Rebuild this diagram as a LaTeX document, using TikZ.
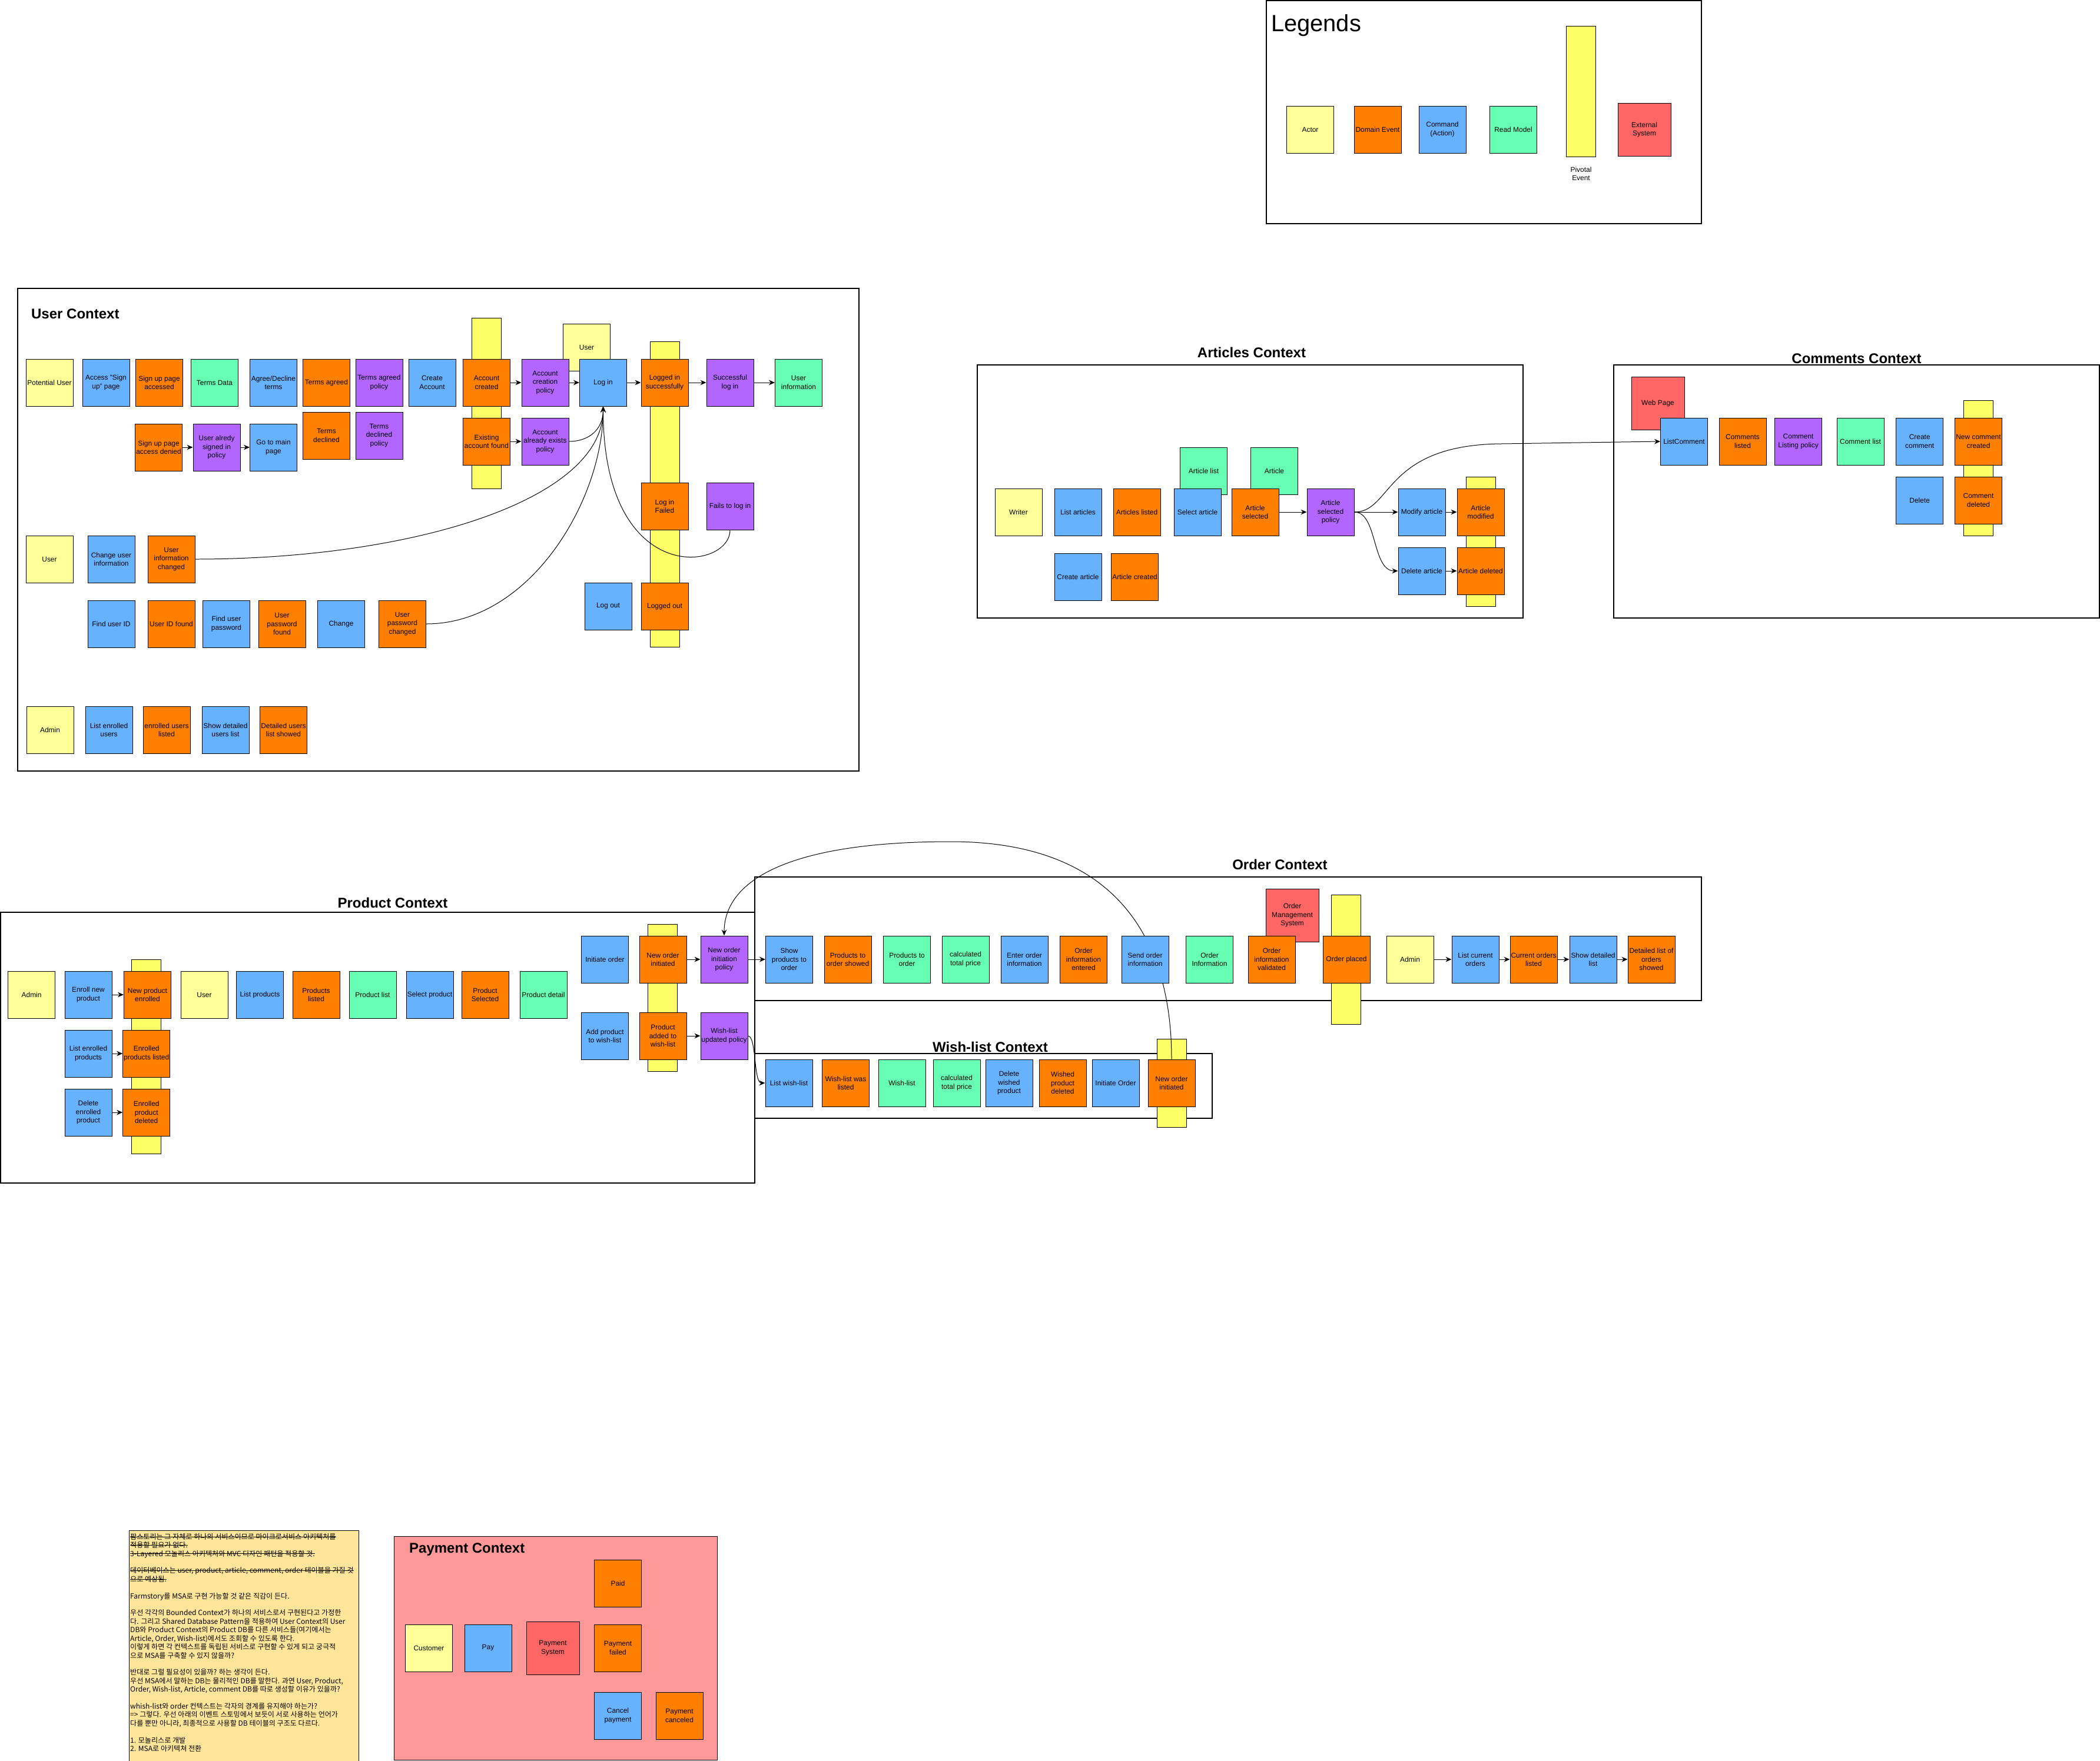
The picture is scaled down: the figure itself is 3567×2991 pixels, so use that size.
\documentclass[tikz,border=0pt]{standalone}
\usepackage{fontspec}
\setmainfont{Liberation Sans}
\newfontfamily\kofont{Noto Sans CJK KR}
\usetikzlibrary{arrows.meta}
\definecolor{actorc}{HTML}{FFFF99}
\definecolor{eventc}{HTML}{FF8000}
\definecolor{cmdc}{HTML}{66B2FF}
\definecolor{readc}{HTML}{66FFB3}
\definecolor{policyc}{HTML}{B266FF}
\definecolor{extc}{HTML}{FF6666}
\definecolor{pivotc}{HTML}{FFFF66}
\definecolor{memoc}{HTML}{FFE599}
\definecolor{payc}{HTML}{FF9999}
\newcommand\boxfont{\fontsize{10.2pt}{12.3pt}\selectfont}
\newcommand\titlefont{\bfseries\fontsize{20.5pt}{24pt}\selectfont}
\newcommand\memofont{\kofont\fontsize{10.3pt}{12.3pt}\selectfont}
\newcommand\strk[1]{\leavevmode\setbox0\hbox{#1}\rlap{\rule[0.32em]{\wd0}{0.07em}}\box0}
\pgfdeclarelayer{back}
\pgfdeclarelayer{mid}
\pgfsetlayers{back,mid,main}

\begin{document}
\begin{tikzpicture}[x=0.03cm, y=-0.03cm,
  stick/.style={draw, line width=0.85pt, minimum width=2.4cm, minimum height=2.4cm, inner sep=1pt, align=center, font=\boxfont},
  actor/.style={stick, fill=actorc},
  event/.style={stick, fill=eventc},
  cmd/.style={stick, fill=cmdc},
  readm/.style={stick, fill=readc},
  policy/.style={stick, fill=policyc},
  extsys/.style={stick, fill=extc, minimum width=2.7cm, minimum height=2.7cm},
  pivot/.style={draw, line width=0.85pt, fill=pivotc, minimum width=1.5cm, inner sep=0pt},
  frame/.style={draw, line width=1.2pt},
  ctitle/.style={font=\titlefont, anchor=base},
  flow/.style={-{Stealth[length=0.3cm,width=0.26cm]}, line width=0.85pt}]
\useasboundingbox (0,0) rectangle (3567,2991);

\begin{pgfonlayer}{back}
\fill[white] (0,0) rectangle (3567,2991);
\draw[frame] (2151,1) rectangle (2890,380);
\draw[frame] (30,490) rectangle (1459,1310);
\draw[frame] (1660,620) rectangle (2587,1050);
\draw[frame] (2741,620) rectangle (3566,1050);
\draw[frame] (1,1550) rectangle (1282,2010);
\draw[frame] (1282,1490) rectangle (2890,1700);
\draw[frame] (1282,1790) rectangle (2059,1900);
\draw[line width=0.85pt, fill=payc] (669,2610) rectangle (1218,2990);
\draw[line width=0.85pt, fill=memoc] (219,2600) rectangle (609,2995);

\node[pivot, minimum height=6.63cm] (lgbar) at (2685.5,155.5) {};
\node[pivot, minimum height=8.7cm] (ubar1) at (826.5,685) {};
\node[pivot, minimum height=15.57cm] (ubar2) at (1129,839.5) {};
\node[pivot, minimum height=6.6cm] (abar) at (2515,920) {};
\node[pivot, minimum height=6.9cm] (cbar) at (3360.5,795) {};
\node[pivot, minimum height=9.9cm] (pbar1) at (248.6,1795) {};
\node[pivot, minimum height=7.5cm] (pbar2) at (1125.5,1695) {};
\node[pivot, minimum height=6.6cm] (obar) at (2286.7,1630) {};
\node[pivot, minimum height=4.5cm] (wbar) at (1990,1840) {};
\end{pgfonlayer}

\node[anchor=base west, font=\fontsize{34pt}{40pt}\selectfont] (lgtitle) at (2155,53) {Legends};
\node[actor] (lgactor) at (2225.5,220) {Actor};
\node[event] (lgevent) at (2340,220) {Domain Event};
\node[cmd] (lgcmd) at (2450,220) {Command\\(Action)};
\node[readm] (lgread) at (2570.5,220) {Read Model};
\node[extsys] (lgext) at (2793,220.5) {External\\System};
\node[font=\boxfont, align=center] (lgpiv) at (2685.5,295) {Pivotal\\Event};

\node[ctitle, anchor=base west] (utitle) at (49,541.7) {User Context};
\node[actor] (pu) at (84,650) {Potential User};
\node[cmd] (asu) at (180,650) {Access "Sign\\up" page};
\node[event] (spa) at (270.5,650) {Sign up page\\accessed};
\node[readm] (td) at (364.5,650) {Terms Data};
\node[cmd] (adt) at (464.5,650) {Agree/Decline\\terms};
\node[event] (ta) at (554.5,650) {Terms agreed};
\node[policy] (tap) at (644,650) {Terms agreed\\policy};
\node[cmd] (ca) at (734,650) {Create\\Account};
\node[event] (acr) at (826.5,650) {Account\\created};
\node[actor] (usr) at (996.5,590) {User};
\node[policy] (acp) at (926,650) {Account\\creation\\policy};
\node[cmd] (login) at (1024.5,650) {Log in};
\node[event] (lis) at (1129,650) {Logged in\\successfully};
\node[policy] (sli) at (1240,650) {Successful\\log in};
\node[readm] (uinf) at (1356.5,650) {User\\information};
\node[event] (eaf) at (826.5,750) {Existing\\account found};
\node[policy] (aaep) at (926,750) {Account\\already exists\\policy};
\node[event] (spad) at (269.5,760) {Sign up page\\access denied};
\node[policy] (uasp) at (368,760) {User alredy\\signed in\\policy};
\node[cmd] (gmp) at (464.5,760) {Go to main\\page};
\node[event] (tdc) at (554.5,740) {Terms\\declined};
\node[policy] (tdp) at (644,740) {Terms\\declined\\policy};
\node[event] (lif) at (1129,860) {Log in\\Failed};
\node[policy] (ftl) at (1240,860) {Fails to log in};
\node[cmd] (lo) at (1033,1030) {Log out};
\node[event] (lout) at (1129,1030) {Logged out};
\node[actor] (usr2) at (84,950) {User};
\node[cmd] (cui) at (189,950) {Change user\\information};
\node[event] (uic) at (291,950) {User\\information\\changed};
\node[cmd] (fui) at (189,1060) {Find user ID};
\node[event] (uif) at (291,1060) {User ID found};
\node[cmd] (fup) at (384.5,1060) {Find user\\password};
\node[event] (upf) at (479,1060) {User\\password\\found};
\node[cmd] (chg) at (579.5,1060) {Change};
\node[event] (upc) at (683.5,1060) {User\\password\\changed};
\node[actor] (adm) at (85,1240) {Admin};
\node[cmd] (leu) at (185,1240) {List enrolled\\users};
\node[event] (eul) at (283,1240) {enrolled users\\listed};
\node[cmd] (sdu) at (383,1240) {Show detailed\\users list};
\node[event] (dus) at (481.5,1240) {Detailed users\\list showed};

\node[ctitle] (atitle) at (2126,607) {Articles Context};
\node[actor] (wr) at (1730,870) {Writer};
\node[cmd] (la) at (1831,870) {List articles};
\node[event] (al) at (1931,870) {Articles listed};
\node[readm] (arl) at (2044.5,800) {Article list};
\node[readm] (art) at (2164.5,800) {Article};
\node[cmd] (sa) at (2034,870) {Select article};
\node[event] (as) at (2132,870) {Article\\selected};
\node[policy] (asp) at (2260,870) {Article\\selected\\policy};
\node[cmd] (ma) at (2415,870) {Modify article};
\node[event] (am) at (2515,870) {Article\\modified};
\node[cmd] (da) at (2415,970) {Delete article};
\node[event] (ad) at (2515,970) {Article deleted};
\node[cmd] (cra) at (1831,980) {Create article};
\node[event] (ac) at (1927.6,980) {Article created};

\node[ctitle] (ctitle) at (3153.5,617) {Comments Context};
\node[extsys] (wp) at (2816,685) {Web Page};
\node[cmd] (lc) at (2860.5,750) {ListComment};
\node[event] (cl) at (2960,750) {Comments\\listed};
\node[policy] (clp) at (3054.6,750) {Comment\\Listing policy};
\node[readm] (cml) at (3160,750) {Comment list};
\node[cmd] (cc) at (3260.7,750) {Create\\comment};
\node[event] (ncc) at (3360.5,750) {New comment\\created};
\node[cmd] (del) at (3260.7,850) {Delete};
\node[event] (cd) at (3360.5,850) {Comment\\deleted};

\node[ctitle] (ptitle) at (667,1542) {Product Context};
\node[actor] (padm) at (53.6,1690) {Admin};
\node[cmd] (enp) at (150,1690) {Enroll new\\product};
\node[event] (npe) at (250.5,1690) {New product\\enrolled};
\node[actor] (pusr) at (347,1690) {User};
\node[cmd] (lp) at (441.5,1690) {List products};
\node[event] (pl) at (537,1690) {Products\\listed};
\node[readm] (prl) at (633,1690) {Product list};
\node[cmd] (sp) at (730,1690) {Select product};
\node[event] (ps) at (824,1690) {Product\\Selected};
\node[readm] (pd) at (923,1690) {Product detail};
\node[cmd] (lep) at (150,1790) {List enrolled\\products};
\node[event] (epl) at (248.7,1790) {Enrolled\\products listed};
\node[cmd] (dep) at (150,1890) {Delete\\enrolled\\product};
\node[event] (epd) at (248.7,1890) {Enrolled\\product\\deleted};
\node[cmd] (io) at (1027.5,1630) {Initiate order};
\node[event] (noi) at (1126,1630) {New order\\initiated};
\node[policy] (nip) at (1230,1630) {New order\\initiation\\policy};
\node[cmd] (apw) at (1027.5,1760) {Add product\\to wish-list};
\node[event] (paw) at (1126,1760) {Product\\added to\\wish-list};
\node[policy] (wup) at (1230,1760) {Wish-list\\updated policy};

\node[ctitle] (otitle) at (2174,1477) {Order Context};
\node[cmd] (spo) at (1340.5,1630) {Show\\products to\\order};
\node[event] (pos) at (1440,1630) {Products to\\order showed};
\node[readm] (pto) at (1540.5,1630) {Products to\\order};
\node[readm] (ctp) at (1640,1630) {calculated\\total price};
\node[cmd] (eoi) at (1740,1630) {Enter order\\information};
\node[event] (oie) at (1840.5,1630) {Order\\information\\entered};
\node[cmd] (soi) at (1945,1630) {Send order\\information};
\node[readm] (oinf) at (2054.5,1630) {Order\\Information};
\node[extsys] (oms) at (2195,1555) {Order\\Management\\System};
\node[event] (oiv) at (2160,1630) {Order\\information\\validated};
\node[event] (op) at (2287,1630) {Order placed};
\node[actor] (oadm) at (2395,1630) {Admin};
\node[cmd] (lco) at (2506,1630) {List current\\orders};
\node[event] (col) at (2605,1630) {Current orders\\listed};
\node[cmd] (sdl) at (2706,1630) {Show detailed\\list};
\node[event] (dlo) at (2805,1630) {Detailed list of\\orders\\showed};

\node[ctitle] (wtitle) at (1682,1787) {Wish-list Context};
\node[cmd] (lwl) at (1340,1840) {List wish-list};
\node[event] (wll) at (1436.5,1840) {Wish-list was\\listed};
\node[readm] (wl) at (1532,1840) {Wish-list};
\node[readm] (wctp) at (1625,1840) {calculated\\total price};
\node[cmd] (dwp) at (1714,1840) {Delete\\wished\\product};
\node[event] (wpd) at (1805,1840) {Wished\\product\\deleted};
\node[cmd] (wio) at (1895,1840) {Initiate Order};
\node[event] (wnoi) at (1990,1840) {New order\\initiated};

\node[ctitle, anchor=base west] (paytitle) at (691,2638) {Payment Context};
\node[actor] (cust) at (728.5,2800) {Customer};
\node[cmd] (pay) at (829,2800) {Pay};
\node[extsys] (psys) at (939,2800) {Payment\\System};
\node[event] (paid) at (1049.5,2690) {Paid};
\node[event] (pf) at (1049.5,2800) {Payment\\failed};
\node[cmd] (cp) at (1049.5,2915) {Cancel\\payment};
\node[event] (pc) at (1154,2915) {Payment\\canceled};

\node[anchor=north west, align=left, inner sep=0pt, font=\memofont] (memo) at (221,2605) {%
\strk{팜스토리는 그 자체로 하나의 서비스이므로 마이크로서비스 아키텍처를}\\
\strk{적용할 필요가 없다.}\\
\strk{3-Layered 모놀리스 아키텍처와 MVC 디자인 패턴을 적용할 것.}\\[12.3pt]
\strk{데이터베이스는 user, product, article, comment, order 테이블을 가질 것}\\
\strk{으로 예상됨.}\\[12.3pt]
Farmstory를 MSA로 구현 가능할 것 같은 직감이 든다.\\[12.3pt]
우선 각각의 Bounded Context가 하나의 서비스로서 구현된다고 가정한\\
다. 그리고 Shared Database Pattern을 적용하여 User Context의 User\\
DB와 Product Context의 Product DB를 다른 서비스들(여기에서는\\
Article, Order, Wish-list)에서도 조회할 수 있도록 한다.\\
이렇게 하면 각 컨텍스트를 독립된 서비스로 구현할 수 있게 되고 궁극적\\
으로 MSA를 구축할 수 있지 않을까?\\[12.3pt]
반대로 그럴 필요성이 있을까? 하는 생각이 든다.\\
우선 MSA에서 말하는 DB는 물리적인 DB를 말한다. 과연 User, Product,\\
Order, Wish-list, Article, comment DB를 따로 생성할 이유가 있을까?\\[12.3pt]
whish-list와 order 컨텍스트는 각자의 경계를 유지해야 하는가?\\
=> 그렇다. 우선 아래의 이벤트 스토밍에서 보듯이 서로 사용하는 언어가\\
다를 뿐만 아니라, 최종적으로 사용할 DB 테이블의 구조도 다르다.\\[12.3pt]
1. 모놀리스로 개발\\
2. MSA로 아키텍쳐 전환};

\begin{pgfonlayer}{mid}
\draw[flow] (acr) -- (acp);
\draw[flow] (acp) -- (login);
\draw[flow] (login) -- (lis);
\draw[flow] (lis) -- (sli);
\draw[flow] (sli) -- (uinf);
\draw[flow] (eaf) -- (aaep);
\draw[flow] (spad) -- (uasp);
\draw[flow] (uasp) -- (gmp);
\draw[flow] (aaep.east) .. controls (1000,750) and (1024.5,730) .. (login.south);
\draw[flow] (uic.east) .. controls (700,950) and (1024.5,850) .. (login.south);
\draw[flow] (upc.east) .. controls (900,1060) and (1024.5,850) .. (login.south);
\draw[flow] (ftl.south) .. controls (1240,970) and (1024.5,1000) .. (login.south);

\draw[flow] (as) -- (asp);
\draw[flow] (asp) -- (ma);
\draw[flow] (asp.east) .. controls (2340,870) and (2330,970) .. (da.west);
\draw[flow] (ma) -- (am);
\draw[flow] (da) -- (ad);
\draw[flow] (asp.east) .. controls (2365,870) and (2350,756) .. (2550,754) -- (lc.west);

\draw[flow] (enp) -- (npe);
\draw[flow] (lep) -- (epl);
\draw[flow] (dep) -- (epd);
\draw[flow] (noi) -- (nip);
\draw[flow] (nip) -- (spo);
\draw[flow] (paw) -- (wup);
\draw[flow] (wup.east) .. controls (1285,1760) and (1280,1840) .. (lwl.west);
\draw[flow] (wnoi.north) .. controls (1990,1600) and (1900,1430) .. (1615,1430) .. controls (1330,1430) and (1230,1500) .. (nip.north);

\draw[flow] (oadm) -- (lco);
\draw[flow] (lco) -- (col);
\draw[flow] (col) -- (sdl);
\draw[flow] (sdl) -- (dlo);
\end{pgfonlayer}
\end{tikzpicture}
\end{document}
